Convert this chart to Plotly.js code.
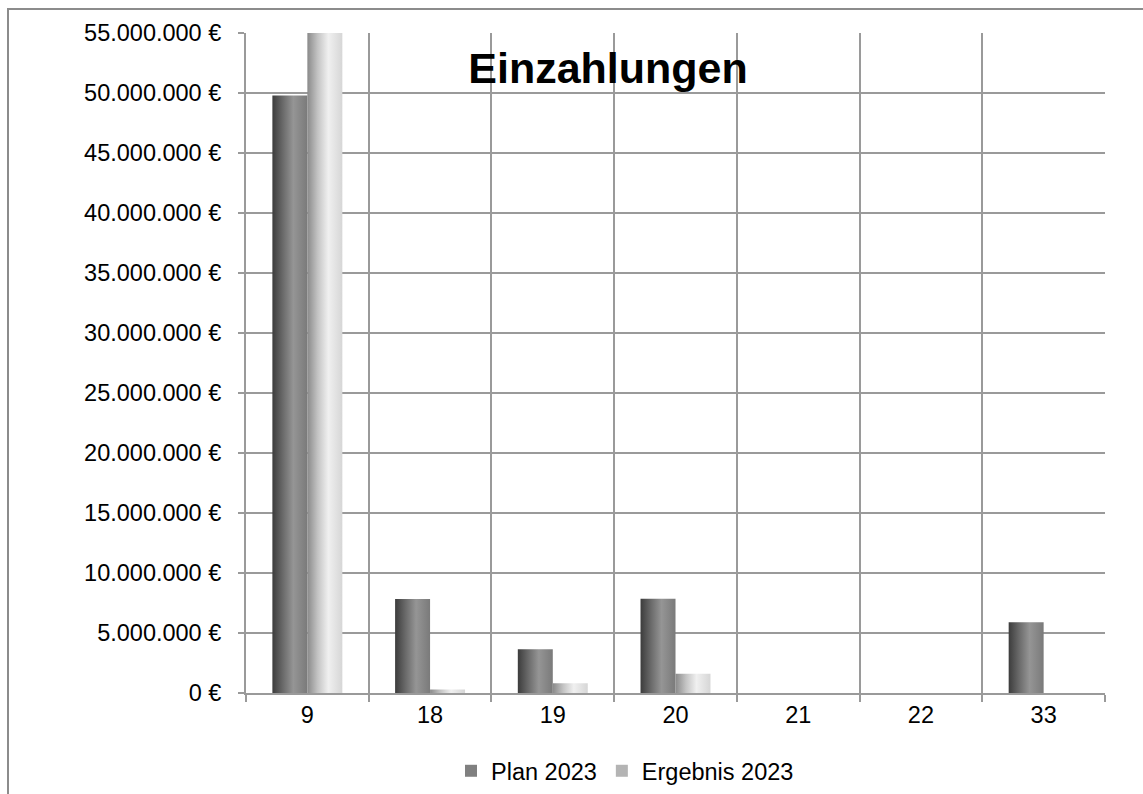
<!DOCTYPE html>
<html>
<head>
<meta charset="utf-8">
<script src="https://cdn.plot.ly/plotly-3.0.1.min.js"></script>
<style>
  html, body { margin: 0; padding: 0; background: #fff; overflow: hidden; }
  #chart { width: 1143px; height: 794px; }
  #frame { position: absolute; left: 7px; top: 8px; width: 1300px; height: 1000px;
           border: 2px solid #8c8c8c; pointer-events: none; }
</style>
</head>
<body>
<div id="chart"></div>
<div id="frame"></div>
<script>
// ---- data ----
const categories = ["9", "18", "19", "20", "21", "22", "33"];
const plan2023 = [49800000, 7830000, 3640000, 7860000, 0, 0, 5890000];
const ergebnis2023 = [55000000, 300000, 810000, 1600000, 0, 0, 0];
const seriesNames = ["Plan 2023", "Ergebnis 2023"];
const yTickValues = [0, 5000000, 10000000, 15000000, 20000000, 25000000, 30000000,
                     35000000, 40000000, 45000000, 50000000, 55000000];
const yTickLabels = ["0 €", "5.000.000 €", "10.000.000 €", "15.000.000 €", "20.000.000 €",
                     "25.000.000 €", "30.000.000 €", "35.000.000 €", "40.000.000 €",
                     "45.000.000 €", "50.000.000 €", "55.000.000 €"];
const chartTitle = "Einzahlungen";

const FONT = "Liberation Sans, Arial, sans-serif";
const GRID = "#9a9a9a";
const FS = 23.5;

const traces = [
  { type: "bar", name: seriesNames[0], x: categories, y: plan2023,
    marker: { color: "#808080", line: { width: 0 } } },
  { type: "bar", name: seriesNames[1], x: categories, y: ergebnis2023,
    marker: { color: "#b4b4b4", line: { width: 0 } } }
];

const layout = {
  width: 1143, height: 794,
  margin: { l: 246, r: 38, t: 33, b: 101, pad: 0 },
  paper_bgcolor: "#ffffff", plot_bgcolor: "#ffffff",
  font: { family: FONT, size: FS, color: "#000" },
  barmode: "group", bargap: 0.43, bargroupgap: 0,
  showlegend: true,
  title: { text: "<b>" + chartTitle + "</b>", font: { family: FONT, size: 43, color: "#000" },
           xref: "container", yref: "container", x: 608 / 1143, xanchor: "center",
           y: 1 - 68 / 794, yanchor: "middle" },
  xaxis: {
    type: "category", tickson: "boundaries",
    showgrid: true, gridcolor: GRID, gridwidth: 2,
    showline: true, linecolor: GRID, linewidth: 2,
    ticks: "outside", ticklen: 7, tickwidth: 2, tickcolor: GRID,
    tickfont: { family: FONT, size: FS, color: "#000" },
    mirror: false, fixedrange: true
  },
  yaxis: {
    range: [0, 55000000], tickmode: "array", tickvals: yTickValues, ticktext: yTickLabels,
    showgrid: true, gridcolor: GRID, gridwidth: 2, zeroline: false,
    showline: true, linecolor: GRID, linewidth: 2,
    ticks: "outside", ticklen: 6, tickwidth: 2, tickcolor: GRID,
    ticklabelstandoff: 12,
    tickfont: { family: FONT, size: FS, color: "#000" }, fixedrange: true
  },
  legend: {
    orientation: "h", xref: "container", yref: "container",
    x: 625 / 1143, xanchor: "center", y: 1 - 771 / 794, yanchor: "middle",
    font: { family: FONT, size: FS, color: "#000" }, itemwidth: 30,
    bgcolor: "rgba(0,0,0,0)", traceorder: "normal"
  }
};

Plotly.newPlot("chart", traces, layout, { displayModeBar: false, staticPlot: true }).then(function (gd) {
  // cylinder-like horizontal shading as in the original
  const svg = gd.querySelector("svg.main-svg");
  const ns = "http://www.w3.org/2000/svg";
  let defs = svg.querySelector("defs");
  function grad(id, stops) {
    const g = document.createElementNS(ns, "linearGradient");
    g.setAttribute("id", id);
    g.setAttribute("x1", "0"); g.setAttribute("x2", "1");
    g.setAttribute("y1", "0"); g.setAttribute("y2", "0");
    stops.forEach(function (s) {
      const st = document.createElementNS(ns, "stop");
      st.setAttribute("offset", s[0]); st.setAttribute("stop-color", s[1]);
      g.appendChild(st);
    });
    defs.appendChild(g);
  }
  grad("gPlan", [["0", "#3c3c3c"], ["0.3", "#6a6a6a"], ["0.6", "#959595"], ["1", "#7a7a7a"]]);
  grad("gErg", [["0", "#8a8a8a"], ["0.3", "#c4c4c4"], ["0.6", "#f0f0f0"], ["1", "#d6d6d6"]]);
  const groups = gd.querySelectorAll(".barlayer .trace");
  const ids = ["gPlan", "gErg"];
  groups.forEach(function (t, i) {
    t.querySelectorAll("path").forEach(function (p) { p.style.fill = "url(#" + ids[i] + ")"; });
  });
});
</script>
</body>
</html>
